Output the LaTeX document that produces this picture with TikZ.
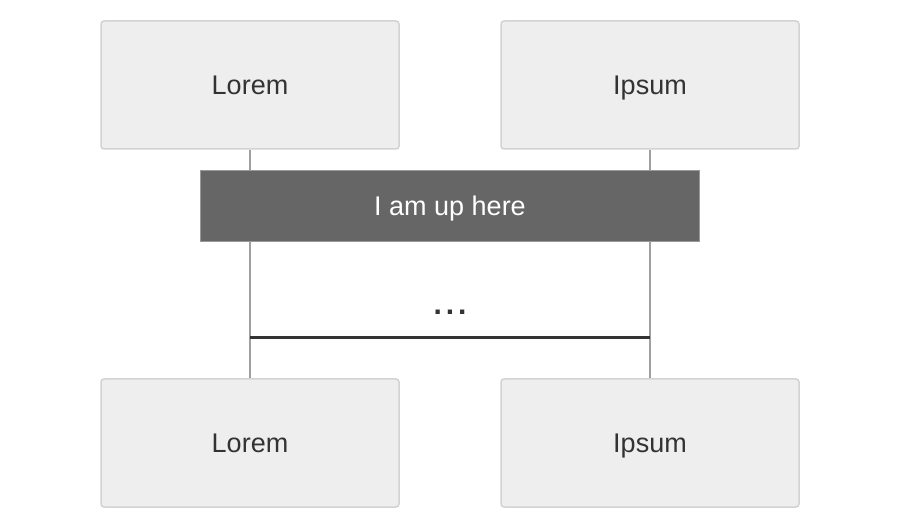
\documentclass[tikz,border=0pt]{standalone}
\usepackage{fontspec}
\setmainfont{Liberation Sans}
\usepackage{tikz}

\definecolor{boxfill}{HTML}{EEEEEE}
\definecolor{boxline}{HTML}{D3D3D3}
\definecolor{notefill}{HTML}{666666}
\definecolor{noteline}{HTML}{999999}
\definecolor{lifeline}{HTML}{A0A0A0}
\definecolor{msgline}{HTML}{333333}

\begin{document}
\begin{tikzpicture}[x=1pt,y=-1pt]
    \tikzstyle{actor}=[rectangle,rounded corners=3pt,fill=boxfill,draw=boxline,line width=1.5pt,
      minimum width=298pt,minimum height=128pt,text=msgline,text height=19.5pt,text depth=0pt,
      font=\fontsize{27}{32}\selectfont]
    \tikzstyle{note}=[rectangle,fill=notefill,draw=noteline,line width=1.5pt,
      minimum width=499pt,minimum height=71pt,text=white,text height=19.5pt,text depth=0pt,
      font=\fontsize{27}{32}\selectfont]
    \useasboundingbox (0,0) rectangle (900,510);
      \node[actor] (A_1) at (250,85)  {Lorem};
      \node[actor] (B_1) at (650,85)  {Ipsum};
      \node[actor] (A_2) at (250,443) {Lorem};
      \node[actor] (B_2) at (650,443) {Ipsum};
      \draw[lifeline,line width=1.2pt] (A_1) -- (A_2);
      \draw[lifeline,line width=1.2pt] (B_1) -- (B_2);
      \node[note] (N) at (450,206) {I am up here};
      \coordinate (M_1) at (250,338);
      \coordinate (M_2) at (650,338);
      \draw[msgline,line width=3pt] (M_1) -- node [midway, yshift=26pt, text=msgline,
        font=\bfseries\fontsize{30}{32}\selectfont] {.\kern4pt.\kern4pt.} (M_2);
    \end{tikzpicture}
\end{document}
